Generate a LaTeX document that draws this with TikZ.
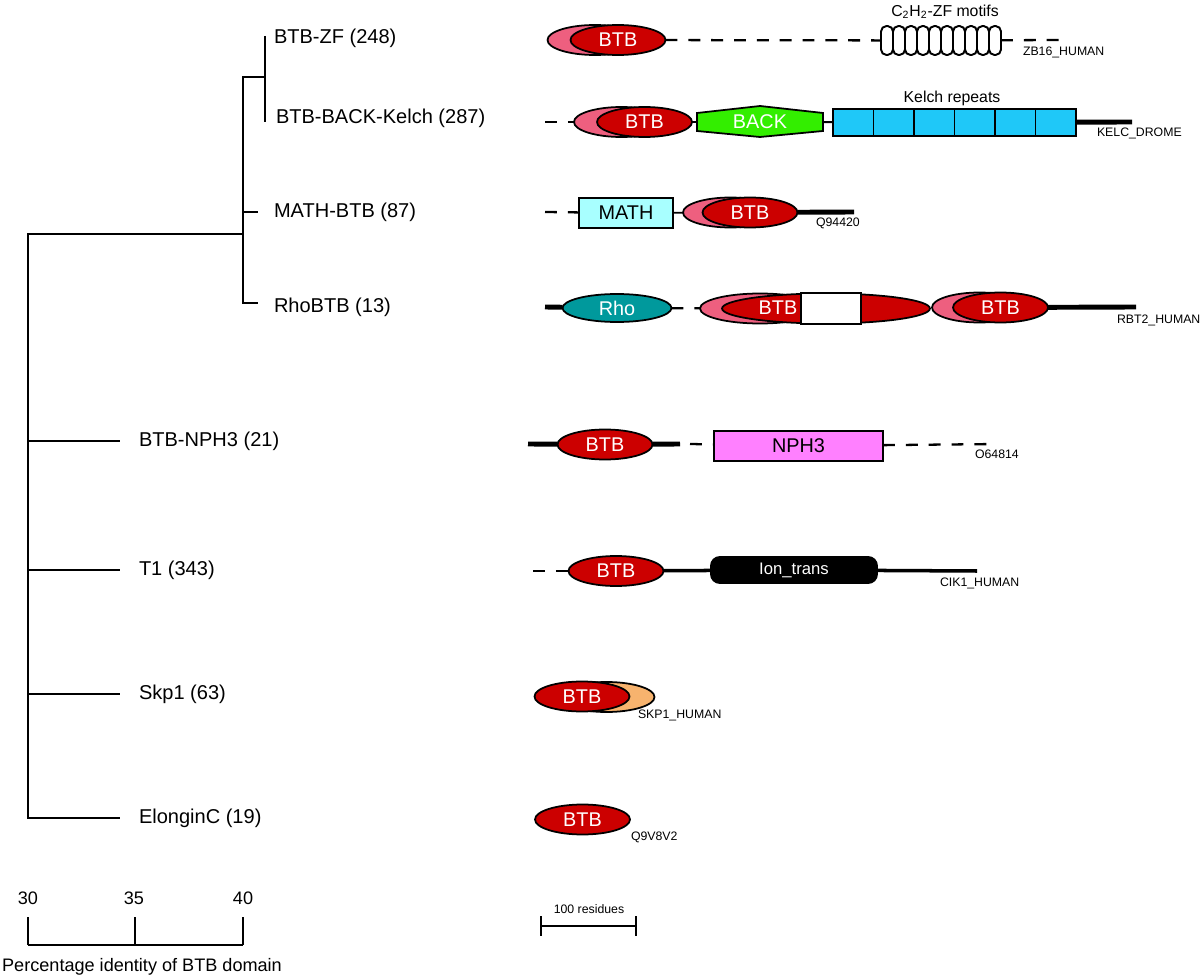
\documentclass[tikz,border=0pt]{standalone}
\usepackage{fontspec}
\setmainfont{Liberation Sans}
\usetikzlibrary{shapes.geometric, positioning, calc}

\definecolor{btbred}{HTML}{CC0000}
\definecolor{btbpink}{HTML}{EE5F7F}
\definecolor{backgreen}{HTML}{33EE00}
\definecolor{kelchblue}{HTML}{1FC8F8}
\definecolor{mathcyan}{HTML}{A8FFFF}
\definecolor{rhoteal}{HTML}{00999C}
\definecolor{nphpink}{HTML}{FF80FF}
\definecolor{skporange}{HTML}{F7B36E}

\begin{document}
\begin{tikzpicture}[x=0.02cm, y=-0.02cm,
    every node/.style={inner sep=0pt, outer sep=0pt},
    lbl/.style={anchor=west, font=\fontsize{11.4}{13}\selectfont},
    acc/.style={anchor=west, font=\fontsize{7}{8}\selectfont},
    tree/.style={line width=1.1pt},
    dom/.style={draw, line width=1pt, font=\fontsize{11.3}{13}\selectfont},
    btb/.style={dom, ellipse, fill=btbred, text=white, minimum width=1.9cm, minimum height=0.6cm},
    halo/.style={btb, fill=btbpink},
    link/.style={line width=1.1pt},
    tail/.style={line width=2.8pt},
    mid/.style={line width=2pt},
    gap/.style={line width=1.3pt, dash pattern=on 6.8pt off 6.2pt},
    zfcoil/.style={line width=1.1pt, rounded corners=0.11cm},
  ]
  \useasboundingbox (0,0) rectangle (1200,976);

  % tree labels
  \node[lbl] (zfl) at (274,38) {BTB-ZF (248)};
  \node[lbl] (kll) at (276,118) {BTB-BACK-Kelch (287)};
  \node[lbl] (mtl) at (274,212) {MATH-BTB (87)};
  \node[lbl] (rhl) at (274,307) {RhoBTB (13)};
  \node[lbl] (npl) at (139,441) {BTB-NPH3 (21)};
  \node[lbl] (t1l) at (139,570) {T1 (343)};
  \node[lbl] (skl) at (139,694) {Skp1 (63)};
  \node[lbl] (ell) at (139,818) {ElonginC (19)};

  % tree
  \coordinate (zft) at (265,36);
  \coordinate (klt) at (265,122);
  \coordinate (mtt) at (258,212);
  \coordinate (rht) at (258,303);
  \coordinate (npt) at (120,441);
  \coordinate (t1t) at (120,570);
  \coordinate (skt) at (120,694);
  \coordinate (elt) at (120,818);
  \coordinate (c1) at (265,77);
  \coordinate (c2) at (243,234);
  \coordinate (c0) at (28,234);
  \draw[tree] (zft) -- (klt);
  \draw[tree] (c1) -- (c1 -| c2) |- (rht);
  \draw[tree] (c2 |- mtt) -- (mtt);
  \draw[tree] (c2) -- (c0) |- (elt);
  \foreach \t in {npt, t1t, skt}
    \draw[tree] (c0 |- \t) -- (\t);

  % identity scale
  \coordinate (s30) at (28,945);
  \coordinate (s35) at (135,945);
  \coordinate (s40) at (243,945);
  \draw[tree] (s30) -- (s40);
  \foreach \s in {s30, s35, s40}
    \draw[tree] (\s) -- ++(0,-28);
  \node[font=\fontsize{10.3}{12}\selectfont] (n30) at (28,898) {30};
  \node[font=\fontsize{10.3}{12}\selectfont] (n35) at (134,898) {35};
  \node[font=\fontsize{10.3}{12}\selectfont] (n40) at (243,898) {40};
  \node[font=\fontsize{10.3}{12}\selectfont] (pid) at (142,967) {Percentage identity of BTB domain};

  % residue scale
  \coordinate (r0) at (541,926);
  \coordinate (r1) at (636,926);
  \draw[tree] (r0) -- (r1);
  \draw[tree] ($(r0)+(0,-10)$) -- ($(r0)+(0,10)$);
  \draw[tree] ($(r1)+(0,-10)$) -- ($(r1)+(0,10)$);
  \node[font=\fontsize{7}{8}\selectfont] (res) at (589,909) {100 residues};

  % BTB-ZF
  \node[halo] (zfh) at (595,40) {};
  \node[btb] (zf) at (618,40) {BTB};
  \node[minimum width=2.4cm, minimum height=0.58cm] (zfm) at (941,40.5) {};
  \foreach \i in {0,...,9}
    \draw[zfcoil] ($(zfm.south west)+(12*\i,0)$) rectangle ++(12,-29);
  \node[font=\fontsize{9}{10}\selectfont] (zflbl) at (945,12) {C\textsubscript{2}H\textsubscript{2}-ZF motifs};
  \coordinate (zfend) at (1060,40);
  \draw[gap] (zf) -- (zfm);
  \draw[gap] (zfm) -- (zfend);
  \node[acc] (zfacc) at (1023,52) {ZB16\_HUMAN};

  % BTB-BACK-Kelch
  \coordinate (kl0) at (545,122);
  \node[halo] (klh) at (621.5,122) {};
  \node[btb] (kl) at (644.5,122) {BTB};
  \draw[dom, fill=backgreen] (697,113) -- (760,106) -- (823,113) -- (823,131) -- (760,137) -- (697,131) -- cycle;
  \node[font=\fontsize{11.3}{13}\selectfont, text=white, minimum width=2.52cm] (back) at (760,122) {BACK};
  \node[dom, fill=kelchblue, minimum width=4.86cm, minimum height=0.54cm] (kelch) at (954.5,122.5) {};
  \foreach \i in {1,...,5}
    \draw[dom] ($(kelch.north west)!\i/6!(kelch.north east)$) -- ($(kelch.south west)!\i/6!(kelch.south east)$);
  \node[font=\fontsize{9}{10}\selectfont] (kelchlbl) at (952,98) {Kelch repeats};
  \coordinate (klend) at (1132,122);
  \draw[gap] (kl0) -- (klh);
  \draw[link] (kl) -- (back);
  \draw[link] (back) -- (kelch);
  \draw[tail] (kelch) -- (klend);
  \node[acc] (klacc) at (1097,133) {KELC\_DROME};

  % MATH-BTB
  \coordinate (mt0) at (545,212);
  \node[dom, fill=mathcyan, minimum width=1.88cm, minimum height=0.6cm] (math) at (626,213) {MATH};
  \node[halo] (mth) at (730.5,212.5) {};
  \node[btb] (mt) at (750,212.5) {BTB};
  \coordinate (mtend) at (854,212);
  \draw[gap] (mt0) -- (math);
  \draw[link] (math) -- (mth);
  \draw[tail] (mt) -- (mtend);
  \node[acc] (mtacc) at (816,223) {Q94420};

  % RhoBTB
  \coordinate (rh0) at (545,307);
  \node[dom, ellipse, fill=rhoteal, text=white, minimum width=2.18cm, minimum height=0.56cm] (rho) at (617,308) {Rho};
  \node[halo, minimum width=2.4cm] (rbh) at (760,308.5) {};
  \node[btb, minimum width=4.16cm] (rb) at (826,308.5) {};
  \node[dom, fill=white, minimum width=1.2cm, minimum height=0.62cm] (rbw) at (831,308.5) {};
  \node[font=\fontsize{11.3}{13}\selectfont, text=white] (rbt) at (778,308) {BTB};
  \node[halo] (rb2h) at (979.5,307.5) {};
  \node[btb] (rb2) at (1000.5,307.5) {BTB};
  \coordinate (rhend) at (1136,307);
  \draw[tail] (rh0) -- (rho);
  \draw[gap] (rho) -- (rbh);
  \draw[tail] (rb2) -- (rhend);
  \node[acc] (rhacc) at (1117,320) {RBT2\_HUMAN};

  % BTB-NPH3
  \coordinate (np0) at (528,444);
  \coordinate (np1) at (680,444);
  \coordinate (np2) at (690,444);
  \node[btb] (np) at (605,444.5) {BTB};
  \node[dom, fill=nphpink, minimum width=3.38cm, minimum height=0.6cm] (nph) at (798.5,446) {NPH3};
  \coordinate (npend) at (997,444);
  \draw[tail] (np0) -- (np);
  \draw[tail] (np) -- (np1);
  \draw[gap] (np2) -- (nph);
  \draw[gap] (nph) -- (npend);
  \node[acc] (npacc) at (975,454) {O64814};

  % T1
  \coordinate (t0) at (533,571);
  \node[btb] (t1) at (616,571) {BTB};
  \node[fill=black, text=white, rounded corners=0.2cm, minimum width=3.36cm, minimum height=0.56cm, font=\fontsize{9.5}{11}\selectfont] (ion) at (794,570) {Ion\_trans};
  \coordinate (t1end) at (977,571);
  \draw[gap] (t0) -- (t1);
  \draw[mid] (t1) -- (ion);
  \draw[mid] (ion) -- (t1end);
  \node[acc] (t1acc) at (940,583) {CIK1\_HUMAN};

  % Skp1
  \node[dom, ellipse, fill=skporange, minimum width=1.92cm, minimum height=0.6cm] (skh) at (606.5,697) {};
  \node[btb] (sk) at (582,696.5) {BTB};
  \node[acc] (skacc) at (638,715) {SKP1\_HUMAN};

  % ElonginC
  \node[btb] (el) at (582.5,819.5) {BTB};
  \node[acc] (elacc) at (631,837) {Q9V8V2};
\end{tikzpicture}
\end{document}
